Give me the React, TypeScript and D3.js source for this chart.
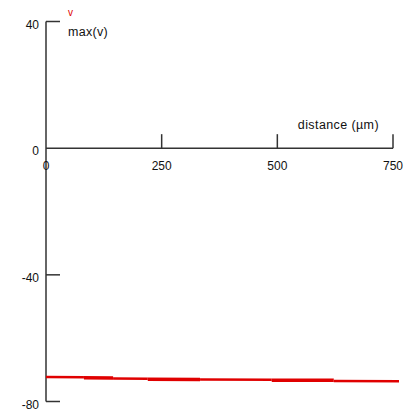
import React, { useEffect, useRef } from 'react';
import * as d3 from 'd3';

// sections along the distance axis, each drawn as its own short segment
const sectionStart = [0, 82, 145, 220, 333, 488, 622];
const sectionEnd = [82, 145, 220, 333, 488, 622, 763];
const sectionV0 = [-72.3, -72.5, -72.75, -73.0, -73.05, -73.25, -73.55];
const sectionV1 = [-72.35, -72.6, -72.8, -73.05, -73.1, -73.3, -73.6];
const sectionThick = [false, true, false, true, false, true, false];

const xTicks = [0, 250, 500, 750];
const yTicks = [40, 0, -40, -80];

function App() {
  const svgRef = useRef<SVGSVGElement>(null);

  useEffect(() => {
    const svg = d3.select(svgRef.current);
    svg.selectAll('*').remove();

    const x = d3.scaleLinear().domain([0, 750]).range([46, 393]);
    const y = d3.scaleLinear().domain([-80, 40]).range([401.5, 21.5]);
    const axisColor = '#333';
    const font = 'Liberation Sans, Arial, sans-serif';

    const g = svg.append('g');

    // y axis line
    g.append('line')
      .attr('x1', x(0)).attr('x2', x(0))
      .attr('y1', y(40)).attr('y2', y(-80))
      .attr('stroke', axisColor).attr('stroke-width', 1.5);

    // y ticks (pointing right), skip the 0 one which is the x axis
    g.selectAll('.ytick')
      .data(yTicks.filter(t => t !== 0))
      .enter().append('line')
      .attr('x1', x(0)).attr('x2', x(0) + 14)
      .attr('y1', d => y(d)).attr('y2', d => y(d))
      .attr('stroke', axisColor).attr('stroke-width', 1.5);

    g.selectAll('.ylabel')
      .data(yTicks)
      .enter().append('text')
      .attr('x', 39)
      .attr('y', d => y(d) + 7)
      .attr('text-anchor', 'end')
      .attr('font-family', font)
      .attr('font-size', 12)
      .attr('fill', '#111')
      .text(d => String(d));

    // x axis line at v = 0
    g.append('line')
      .attr('x1', x(0)).attr('x2', x(750))
      .attr('y1', y(0)).attr('y2', y(0))
      .attr('stroke', axisColor).attr('stroke-width', 1.5);

    // x ticks (pointing up)
    g.selectAll('.xtick')
      .data(xTicks.filter(t => t !== 0))
      .enter().append('line')
      .attr('x1', d => x(d)).attr('x2', d => x(d))
      .attr('y1', y(0)).attr('y2', y(0) - 14)
      .attr('stroke', axisColor).attr('stroke-width', 1.5);

    g.selectAll('.xlabel')
      .data(xTicks)
      .enter().append('text')
      .attr('x', d => x(d))
      .attr('y', y(0) + 22)
      .attr('text-anchor', 'middle')
      .attr('font-family', font)
      .attr('font-size', 12)
      .attr('fill', '#111')
      .text(d => String(d));

    // titles
    g.append('text')
      .attr('x', 379).attr('y', y(0) - 19)
      .attr('text-anchor', 'end')
      .attr('font-family', font).attr('font-size', 12.5)
      .attr('letter-spacing', 0.4)
      .attr('fill', '#111')
      .text('distance (µm)');

    g.append('text')
      .attr('x', 68).attr('y', 16)
      .attr('font-family', font).attr('font-size', 10)
      .attr('fill', '#e00000')
      .text('v');

    g.append('text')
      .attr('x', 68).attr('y', 36)
      .attr('font-family', font).attr('font-size', 12.5)
      .attr('letter-spacing', 0.3)
      .attr('fill', '#111')
      .text('max(v)');

    // max(v) trace
    const sections = sectionStart.map((s, i) => ({
      s, e: sectionEnd[i], v0: sectionV0[i], v1: sectionV1[i], thick: sectionThick[i],
    }));

    g.selectAll('.sec')
      .data(sections)
      .enter().append('line')
      .attr('x1', d => x(d.s)).attr('x2', d => x(d.e))
      .attr('y1', d => y(d.v0)).attr('y2', d => y(d.v1))
      .attr('stroke', '#e00000')
      .attr('stroke-width', d => (d.thick ? 3.5 : 2.5));
  }, []);

  return (
    <div style={{ position: 'absolute', left: 0, top: 0, background: '#fff' }}>
      <svg ref={svgRef} width={417} height={411}></svg>
    </div>
  );
}

export default App;
